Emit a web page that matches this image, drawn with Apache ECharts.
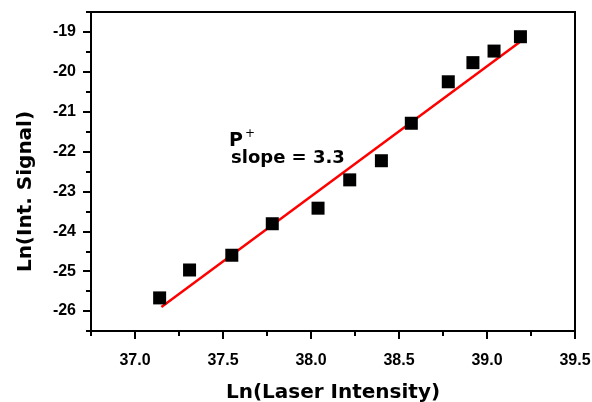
<!DOCTYPE html>
<html>
<head>
<meta charset="utf-8">
<script src="https://cdn.jsdelivr.net/npm/echarts@6/dist/echarts.min.js"></script>
<style>
html, body { margin: 0; padding: 0; background: #fff; }
#main { width: 592px; height: 402px; }
</style>
</head>
<body>
<div id="main"></div>
<script>
var laserLn = [37.14, 37.31, 37.55, 37.78, 38.04, 38.22, 38.40, 38.57, 38.78, 38.92, 39.04, 39.19];
var signalLn = [-25.67, -24.97, -24.60, -23.81, -23.42, -22.71, -22.23, -21.29, -20.25, -19.77, -19.48, -19.12];
// linear fit end points (slope 3.3)
var fitX = [37.15, 39.20];
var fitY = [-25.90, -19.21];

// tick positions
var xMajorTicks = [37.0, 37.5, 38.0, 38.5, 39.0, 39.5];
var xMinorTicks = [36.75, 37.25, 37.75, 38.25, 38.75, 39.25];
var yMajorTicks = [-26, -25, -24, -23, -22, -21, -20, -19];
var yMinorTicks = [-26.5, -25.5, -24.5, -23.5, -22.5, -21.5, -20.5, -19.5, -18.5];

var points = [];
for (var i = 0; i < laserLn.length; i++) points.push([laserLn[i], signalLn[i]]);
var fitLine = [];
for (var j = 0; j < fitX.length; j++) fitLine.push([fitX[j], fitY[j]]);

var tickFont = { color: '#000', fontFamily: 'Liberation Sans', fontWeight: 'bold', fontSize: 16 };
var titleFont = { color: '#000', fontFamily: 'DejaVu Sans', fontWeight: 'bold', fontSize: 20 };
var blackLine = { color: '#000', width: 2 };

var chart = echarts.init(document.getElementById('main'));
var option = {
    animation: false,
    grid: {
        left: 91, right: 17, top: 12, bottom: 71,
        outerBoundsMode: 'none',
        show: true, borderColor: '#000', borderWidth: 2
    },
    xAxis: [
        {
            type: 'value',
            min: 36.75, max: 39.5, interval: 0.25,
            name: 'Ln(Laser Intensity)',
            nameLocation: 'middle', nameGap: 52,
            nameTextStyle: titleFont,
            axisLine: { show: true, onZero: false, lineStyle: blackLine },
            axisTick: { show: true, length: 8, customValues: xMajorTicks, lineStyle: blackLine },
            splitLine: { show: false },
            axisLabel: Object.assign({
                margin: 22, customValues: xMajorTicks,
                formatter: function (v) { return v.toFixed(1); }
            }, tickFont)
        },
        {
            type: 'value',
            position: 'bottom',
            min: 36.75, max: 39.5, interval: 0.25,
            axisLine: { show: false },
            axisTick: { show: true, length: 5, customValues: xMinorTicks, lineStyle: blackLine },
            axisLabel: { show: false },
            splitLine: { show: false }
        }
    ],
    yAxis: [
        {
            type: 'value',
            min: -26.5, max: -18.5, interval: 0.5,
            name: 'Ln(Int. Signal)',
            nameLocation: 'middle', nameGap: 55,
            nameTextStyle: Object.assign({ padding: [0, 40, 0, 0] }, titleFont),
            axisLine: { show: true, onZero: false, lineStyle: blackLine },
            axisTick: { show: true, length: 8, customValues: yMajorTicks, lineStyle: blackLine },
            splitLine: { show: false },
            axisLabel: Object.assign({ margin: 15, customValues: yMajorTicks }, tickFont)
        },
        {
            type: 'value',
            position: 'left',
            min: -26.5, max: -18.5, interval: 0.5,
            axisLine: { show: false },
            axisTick: { show: true, length: 5, customValues: yMinorTicks, lineStyle: blackLine },
            axisLabel: { show: false },
            splitLine: { show: false }
        }
    ],
    series: [
        {
            name: 'fit',
            type: 'line',
            data: fitLine,
            symbol: 'none',
            lineStyle: { color: '#ff0000', width: 2.5 },
            z: 2
        },
        {
            name: 'P+',
            type: 'scatter',
            data: points,
            symbol: 'rect',
            symbolSize: 13,
            itemStyle: { color: '#000', opacity: 1 },
            z: 3
        }
    ],
    graphic: [
        {
            type: 'text', left: 229, top: 132,
            style: { text: 'P', fill: '#000', font: 'bold 19px "DejaVu Sans"' }
        },
        {
            type: 'text', left: 245, top: 128,
            style: { text: '+', fill: '#000', font: '12px "DejaVu Sans"' }
        },
        {
            type: 'text', left: 231, top: 149,
            style: { text: 'slope = 3.3', fill: '#000', font: 'bold 18px "DejaVu Sans"' }
        }
    ]
};
chart.setOption(option);
</script>
</body>
</html>
